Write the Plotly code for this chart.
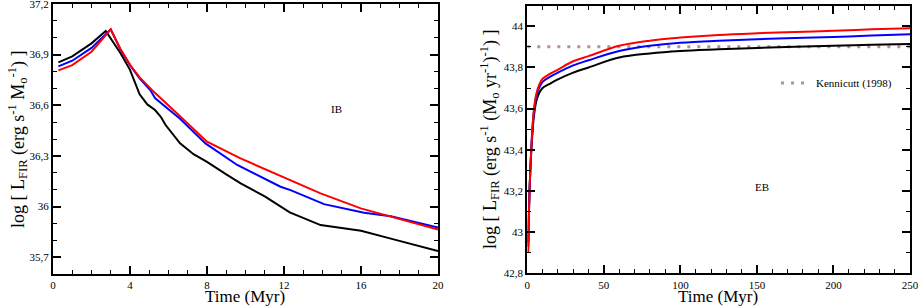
import plotly.graph_objects as go

# ---------------- Left panel (IB) data ----------------
ib_t_black = [0.28, 1.0, 2.0, 2.74, 3.5, 4.0, 4.5, 4.9, 5.3, 5.6, 5.85, 6.6, 7.3, 8.0, 9.0, 9.75, 11.0, 12.3, 13.9, 16.0, 17.5, 20.0]
ib_black = [36.854, 36.89, 36.967, 37.04, 36.91, 36.81, 36.665, 36.605, 36.572, 36.532, 36.483, 36.374, 36.31, 36.265, 36.19, 36.137, 36.06, 35.965, 35.89, 35.856, 35.811, 35.736]

ib_t_blue = [0.28, 1.0, 2.0, 3.0, 3.5, 4.0, 4.5, 5.05, 5.31, 6.6, 7.92, 9.57, 11.82, 12.34, 14.08, 16.16, 17.55, 20.0]
ib_blue = [36.83, 36.864, 36.94, 37.05, 36.93, 36.838, 36.76, 36.69, 36.641, 36.52, 36.374, 36.246, 36.117, 36.097, 36.014, 35.963, 35.942, 35.876]

ib_t_red = [0.28, 1.0, 2.0, 3.0, 3.5, 4.0, 4.5, 5.14, 6.6, 8.0, 9.74, 11.82, 13.9, 15.99, 17.55, 20.0]
ib_red = [36.807, 36.838, 36.917, 37.05, 36.935, 36.84, 36.765, 36.69, 36.535, 36.384, 36.285, 36.18, 36.078, 35.989, 35.939, 35.864]

ib_xticks = [0, 4, 8, 12, 16, 20]
ib_xlabels = ["0", "4", "8", "12", "16", "20"]
ib_yticks = [35.7, 36.0, 36.3, 36.6, 36.9, 37.2]
ib_ylabels = ["35,7", "36", "36,3", "36,6", "36,9", "37,2"]

# ---------------- Right panel (EB) data ----------------
eb_t = [0.65, 1.0, 1.5, 2.0, 2.5, 3.0, 4.0, 5.0, 6.0, 8.0, 10, 15, 20, 30, 40, 60, 80, 100, 125, 150, 175, 200, 225, 250]
eb_red = [42.90, 43.06, 43.21, 43.31, 43.39, 43.46, 43.57, 43.635, 43.675, 43.72, 43.745, 43.77, 43.79, 43.83, 43.855, 43.905, 43.93, 43.945, 43.958, 43.966, 43.972, 43.978, 43.985, 43.99]
eb_blue = [42.93, 43.07, 43.21, 43.31, 43.39, 43.46, 43.565, 43.625, 43.665, 43.705, 43.73, 43.755, 43.775, 43.81, 43.835, 43.88, 43.905, 43.92, 43.93, 43.937, 43.943, 43.948, 43.955, 43.961]
eb_black = [42.95, 43.08, 43.21, 43.30, 43.38, 43.44, 43.54, 43.60, 43.64, 43.68, 43.70, 43.722, 43.742, 43.775, 43.80, 43.848, 43.868, 43.88, 43.888, 43.895, 43.90, 43.905, 43.91, 43.914]

kennicutt_t = [0, 250]
kennicutt_val = [43.9, 43.9]

eb_xticks = [0, 50, 100, 150, 200, 250]
eb_xlabels = ["0", "50", "100", "150", "200", "250"]
eb_yticks = [42.8, 43.0, 43.2, 43.4, 43.6, 43.8, 44.0]
eb_ylabels = ["42,8", "43", "43,2", "43,4", "43,6", "43,8", "44"]

W, H = 918, 306
FONT = "Liberation Serif"

fig = go.Figure()

lw = 2
fig.add_trace(go.Scatter(x=ib_t_black, y=ib_black, mode="lines", line=dict(color="black", width=lw), xaxis="x", yaxis="y", showlegend=False))
fig.add_trace(go.Scatter(x=ib_t_blue, y=ib_blue, mode="lines", line=dict(color="blue", width=lw), xaxis="x", yaxis="y", showlegend=False))
fig.add_trace(go.Scatter(x=ib_t_red, y=ib_red, mode="lines", line=dict(color="red", width=lw), xaxis="x", yaxis="y", showlegend=False))

fig.add_trace(go.Scatter(x=kennicutt_t, y=kennicutt_val, mode="lines", name="Kennicutt (1998)",
                         line=dict(color="#bc8f8f", width=3, dash="3px,7px"), xaxis="x2", yaxis="y2", showlegend=True))
fig.add_trace(go.Scatter(x=eb_t, y=eb_black, mode="lines", line=dict(color="black", width=lw, shape="spline"), xaxis="x2", yaxis="y2", showlegend=False))
fig.add_trace(go.Scatter(x=eb_t, y=eb_blue, mode="lines", line=dict(color="blue", width=lw, shape="spline"), xaxis="x2", yaxis="y2", showlegend=False))
fig.add_trace(go.Scatter(x=eb_t, y=eb_red, mode="lines", line=dict(color="red", width=lw, shape="spline"), xaxis="x2", yaxis="y2", showlegend=False))


def axis(domain, rng, tickvals, ticktext, minor_dtick, minor_tick0, anchor):
    return dict(
        domain=domain, range=rng, anchor=anchor, automargin=False,
        tickmode="array", tickvals=tickvals, ticktext=ticktext,
        ticks="inside", ticklen=8, tickwidth=1.5, tickcolor="black",
        showline=True, linecolor="black", linewidth=2, mirror="ticks",
        showgrid=False, zeroline=False, ticklabeloverflow="allow",
        tickfont=dict(family=FONT, size=11, color="black"),
        minor=dict(ticks="inside", ticklen=4, tickwidth=1.2, tickcolor="black",
                   tickmode="linear", dtick=minor_dtick, tick0=minor_tick0, showgrid=False),
    )


def px_x(p):
    return p / W


def px_y(p):
    return 1 - p / H


def ann(text, x, y, size, angle=0):
    return dict(text=text, x=px_x(x), y=px_y(y), xref="paper", yref="paper",
                xanchor="center", yanchor="middle", textangle=angle,
                showarrow=False, font=dict(family=FONT, size=size, color="black"))


fig.update_layout(
    width=W, height=H,
    margin=dict(l=0, r=0, t=0, b=0, autoexpand=False),
    paper_bgcolor="white", plot_bgcolor="white",
    font=dict(family=FONT, color="black"),
    xaxis=axis([px_x(53), px_x(438)], [0, 20.0001], ib_xticks, ib_xlabels, 1, 0, "y"),
    yaxis=axis([px_y(274), px_y(4)], [35.6, 37.2001], ib_yticks, ib_ylabels, 0.1, 35.6, "x"),
    xaxis2=axis([px_x(527.3), px_x(910)], [0, 250.001], eb_xticks, eb_xlabels, 10, 0, "y2"),
    yaxis2=axis([px_y(273.3), px_y(5.7)], [42.8, 44.1], eb_yticks, eb_ylabels, 0.1, 42.8, "x2"),
    legend=dict(x=px_x(776), y=px_y(83), xanchor="left", yanchor="middle",
                bgcolor="rgba(0,0,0,0)", font=dict(family=FONT, size=11, color="black"),
                itemwidth=30),
    annotations=[
        ann("Time (Myr)", 245, 296, 17),
        ann("Time (Myr)", 718, 296, 17),
        ann("log [ L<sub>FIR</sub> (erg s<sup>-1</sup> M<sub>o</sub><sup>-1</sup>) ]", 18, 139, 18, -90),
        ann("log [ L<sub>FIR</sub> (erg s<sup>-1</sup> (M<sub>o</sub> yr<sup>-1</sup>)<sup>-1</sup>) ]", 490, 139, 18, -90),
        ann("IB", 336, 109, 11),
        ann("EB", 762, 187, 11),
    ],
)

fig.write_html("out.html", config={"displayModeBar": False},
               post_script="document.body.style.margin='0';document.body.style.overflow='hidden';")
